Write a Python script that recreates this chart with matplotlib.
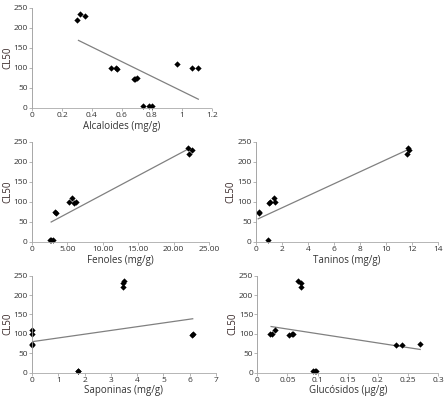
import numpy as np
import matplotlib.pyplot as plt
import matplotlib

matplotlib.rc('font', family=['Open Sans', 'DejaVu Sans'], size=6)

# Data
alc_x = [0.30, 0.32, 0.355, 0.53, 0.56, 0.57, 0.68, 0.69, 0.70, 0.74, 0.78, 0.80, 0.97, 1.07, 1.11]
alc_y = [220, 236, 230, 100, 99, 97, 72, 72, 75, 4, 4, 4, 111, 99, 99]
alc_line = ([0.31, 1.11], [169, 22])

fen_x = [2.5, 2.7, 2.95, 3.3, 3.45, 5.2, 5.6, 5.9, 6.15, 22.0, 22.2, 22.6]
fen_y = [4, 4, 4, 74, 72, 99, 111, 97, 100, 236, 220, 230]
fen_line = ([2.7, 22.1], [50, 233])

tan_x = [0.22, 0.26, 0.95, 1.0, 1.07, 1.38, 1.46, 11.6, 11.7, 11.8]
tan_y = [72, 75, 4, 98, 100, 111, 100, 220, 236, 230]
tan_line = ([0.18, 11.57], [58, 229])

sap_x = [0.0, 0.0, 0.0, 0.0, 1.74, 1.76, 3.45, 3.48, 3.5, 6.1, 6.12]
sap_y = [72, 75, 100, 111, 4, 4, 220, 230, 236, 98, 100]
sap_line = ([0.0, 6.12], [80, 139])

glu_x = [0.021, 0.024, 0.030, 0.053, 0.057, 0.059, 0.068, 0.072, 0.072, 0.093, 0.096, 0.098, 0.23, 0.24, 0.27]
glu_y = [99, 99, 110, 97, 99, 99, 237, 232, 220, 4, 4, 4, 72, 71, 75]
glu_line = ([0.023, 0.27], [119, 60])

fig = plt.figure(figsize=(4.45, 4.0), dpi=100)


def panel(rect, x, y, line, xlabel, xlim, xticks, xfmt=None):
    ax = fig.add_axes(rect)
    ax.plot(line[0], line[1], color='#808080', lw=0.9)
    ax.plot(x, y, 'D', color='black', ms=3.2, mew=0, clip_on=False)
    ax.set_xlim(xlim)
    ax.set_ylim(0, 250)
    ax.set_yticks([0, 50, 100, 150, 200, 250])
    ax.set_xticks(xticks)
    if xfmt is not None:
        ax.set_xticklabels(xfmt)
    for s in ['top', 'right']:
        ax.spines[s].set_visible(False)
    ax.spines['left'].set_color('#999999')
    ax.spines['left'].set_linewidth(0.6)
    ax.spines['bottom'].set_color('#aaaaaa')
    ax.spines['bottom'].set_linewidth(0.6)
    ax.spines['bottom'].set_linestyle((0, (1, 1)))
    ax.tick_params(length=2, width=0.5, color='#999999', pad=1,
                   labelsize=6, labelcolor='#333333')
    ax.set_xlabel(xlabel, fontsize=7, color='#333333', labelpad=1)
    ax.set_ylabel('CL50', fontsize=7, color='#3a2a2a', labelpad=0.5)
    return ax


panel([0.072, 0.73, 0.404, 0.25], alc_x, alc_y, alc_line,
      'Alcaloides (mg/g)', (0, 1.2), [0, 0.2, 0.4, 0.6, 0.8, 1, 1.2],
      ['0', '0.2', '0.4', '0.6', '0.8', '1', '1.2'])
panel([0.072, 0.395, 0.398, 0.25], fen_x, fen_y, fen_line,
      'Fenoles (mg/g)', (0, 25), [0, 5, 10, 15, 20, 25],
      ['0', '5.00', '10.00', '15.00', '20.00', '25.00'])
panel([0.575, 0.395, 0.409, 0.25], tan_x, tan_y, tan_line,
      'Taninos (mg/g)', (0, 14), [0, 2, 4, 6, 8, 10, 12, 14])
panel([0.072, 0.068, 0.413, 0.243], sap_x, sap_y, sap_line,
      'Saponinas (mg/g)', (0, 7), [0, 1, 2, 3, 4, 5, 6, 7])
panel([0.578, 0.068, 0.407, 0.243], glu_x, glu_y, glu_line,
      'Glucósidos (µg/g)', (0, 0.3), [0, 0.05, 0.1, 0.15, 0.2, 0.25, 0.3],
      ['0', '0.05', '0.1', '0.15', '0.2', '0.25', '0.3'])

plt.savefig('out.png', dpi=100)
